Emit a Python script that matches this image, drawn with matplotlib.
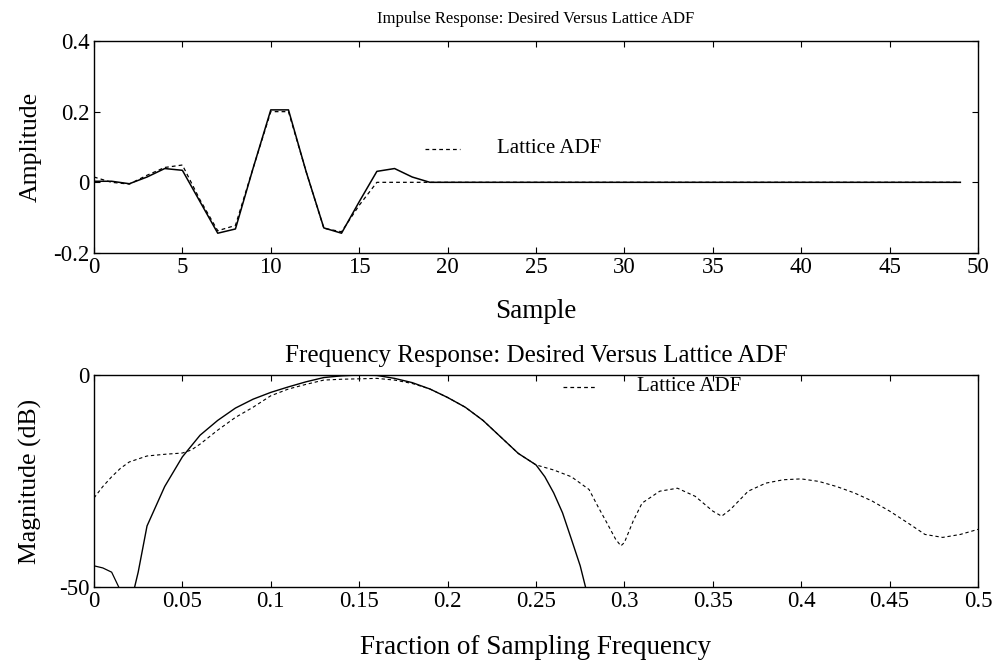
import numpy as np
import matplotlib
matplotlib.use("Agg")
import matplotlib.pyplot as plt

plt.rcParams['font.family'] = ['Liberation Serif', 'DejaVu Serif']

# ---------------- Impulse response data ----------------
samples = list(range(50))
desired_imp = [0.003, 0.003, -0.004, 0.015, 0.039, 0.034, -0.055, -0.144, -0.132, 0.04,
               0.205, 0.205, 0.03, -0.129, -0.144, -0.055, 0.031, 0.039, 0.015, 0.0] + [0.0] * 30
lattice_imp = [0.015, 0.0, -0.005, 0.02, 0.042, 0.049, -0.05, -0.137, -0.122, 0.04,
               0.2, 0.2, 0.03, -0.13, -0.14, -0.065, 0.0, 0.0, 0.0, 0.0] + [0.0] * 30

# ---------------- Frequency response data ----------------
freq_des_a = [0.0, 0.005, 0.01, 0.014]
mag_des_a = [-45.0, -45.5, -46.5, -50.0]
freq_des = [0.023, 0.025, 0.03, 0.04, 0.05, 0.06, 0.07, 0.08, 0.09, 0.10, 0.11, 0.12,
            0.13, 0.14, 0.15, 0.16, 0.17, 0.18, 0.19, 0.20, 0.21, 0.22, 0.23, 0.24,
            0.25, 0.255, 0.26, 0.265, 0.27, 0.275, 0.278]
mag_des = [-50.0, -46.5, -35.6, -26.3, -19.3, -14.2, -10.7, -7.8, -5.7, -4.1, -2.8, -1.6,
           -0.6, -0.2, 0.0, -0.1, -0.8, -1.8, -3.3, -5.3, -7.6, -10.7, -14.6, -18.5,
           -21.2, -24.0, -27.8, -32.5, -38.7, -45.0, -50.0]

freq_lat = [0.0, 0.005, 0.01, 0.015, 0.02, 0.03, 0.04, 0.05, 0.055, 0.06, 0.07, 0.08,
            0.09, 0.10, 0.11, 0.12, 0.13, 0.14, 0.15, 0.16, 0.17, 0.18, 0.19, 0.20,
            0.21, 0.22, 0.23, 0.24, 0.25, 0.26, 0.27, 0.28, 0.285, 0.29, 0.295, 0.298,
            0.30, 0.305, 0.31, 0.32, 0.33, 0.34, 0.35, 0.355, 0.36, 0.37, 0.38, 0.39,
            0.40, 0.41, 0.42, 0.43, 0.44, 0.45, 0.46, 0.47, 0.48, 0.49, 0.50]
mag_lat = [-29.0, -26.3, -24.0, -22.0, -20.5, -19.1, -18.7, -18.4, -17.7, -16.3, -13.0, -10.0,
           -7.6, -4.9, -3.3, -2.2, -1.2, -1.0, -0.9, -0.8, -1.2, -2.0, -3.3, -5.3,
           -7.6, -10.7, -14.6, -18.5, -21.2, -22.4, -24.0, -27.0, -31.0, -34.8, -38.7, -40.3,
           -39.5, -34.4, -30.2, -27.4, -26.7, -28.6, -32.1, -33.3, -31.7, -27.4, -25.5, -24.7,
           -24.5, -25.1, -26.3, -27.8, -29.7, -32.1, -34.8, -37.6, -38.3, -37.6, -36.4]

imp_xticks = list(range(0, 51, 5))
imp_yticks = [-0.2, 0.0, 0.2, 0.4]
imp_ylabels = ['-0.2', '0', '0.2', '0.4']
frq_xticks = [0, 0.05, 0.1, 0.15, 0.2, 0.25, 0.3, 0.35, 0.4, 0.45, 0.5]
frq_xlabels = ['0', '0.05', '0.1', '0.15', '0.2', '0.25', '0.3', '0.35', '0.4', '0.45', '0.5']
frq_yticks = [-50, 0]
frq_ylabels = ['-50', '0']

fig = plt.figure(figsize=(10.03, 6.63), dpi=100)
ax1 = fig.add_axes([0.0937, 0.6184, 0.8814, 0.3198])
ax2 = fig.add_axes([0.0937, 0.1146, 0.8814, 0.3198])

dash = (0, (3, 2.5))
for ax in (ax1, ax2):
    ax.tick_params(direction='in', top=True, right=True, length=4, width=0.8,
                   labelsize=16.5, pad=3)
    for s in ax.spines.values():
        s.set_linewidth(1.0)

ax1.plot(samples, desired_imp, color='black', lw=1.1)
ax1.plot(samples, lattice_imp, color='black', lw=0.9, linestyle=dash)
ax1.set_xlim(0, 50)
ax1.set_ylim(-0.2, 0.4)
ax1.set_xticks(imp_xticks)
ax1.set_yticks(imp_yticks)
ax1.set_yticklabels(imp_ylabels)
ax1.text(0.5, 1.105, 'Impulse Response: Desired Versus Lattice ADF', fontsize=12,
         ha='center', va='center', transform=ax1.transAxes)
ax1.set_xlabel('Sample', fontsize=19.5, va='center')
ax1.xaxis.set_label_coords(0.5, -0.275)
ax1.set_ylabel('Amplitude', fontsize=18.5, va='center')
ax1.yaxis.set_label_coords(-0.072, 0.5)
ax1.plot([18.7, 20.7], [0.095, 0.095], color='black', lw=0.9, linestyle=dash)
ax1.text(22.8, 0.095, 'Lattice ADF', fontsize=15, va='center', ha='left')

ax2.plot(freq_des_a, mag_des_a, color='black', lw=0.9)
ax2.plot(freq_des, mag_des, color='black', lw=1.0)
ax2.plot(freq_lat, mag_lat, color='black', lw=0.8, linestyle=dash)
ax2.set_xlim(0, 0.5)
ax2.set_ylim(-50, 0)
ax2.set_xticks(frq_xticks)
ax2.set_xticklabels(frq_xlabels)
ax2.set_yticks(frq_yticks)
ax2.set_yticklabels(frq_ylabels)
ax2.text(0.5, 1.09, 'Frequency Response: Desired Versus Lattice ADF', fontsize=18,
         ha='center', va='center', transform=ax2.transAxes)
ax2.set_xlabel('Fraction of Sampling Frequency', fontsize=19.5, va='center')
ax2.xaxis.set_label_coords(0.5, -0.285)
ax2.set_ylabel('Magnitude (dB)', fontsize=18.5, va='center')
ax2.yaxis.set_label_coords(-0.072, 0.5)
ax2.plot([0.265, 0.284], [-2.8, -2.8], color='black', lw=0.9, linestyle=dash)
ax2.text(0.307, -2.8, 'Lattice ADF', fontsize=15, va='center', ha='left')

fig.savefig('out.png', dpi=100)
